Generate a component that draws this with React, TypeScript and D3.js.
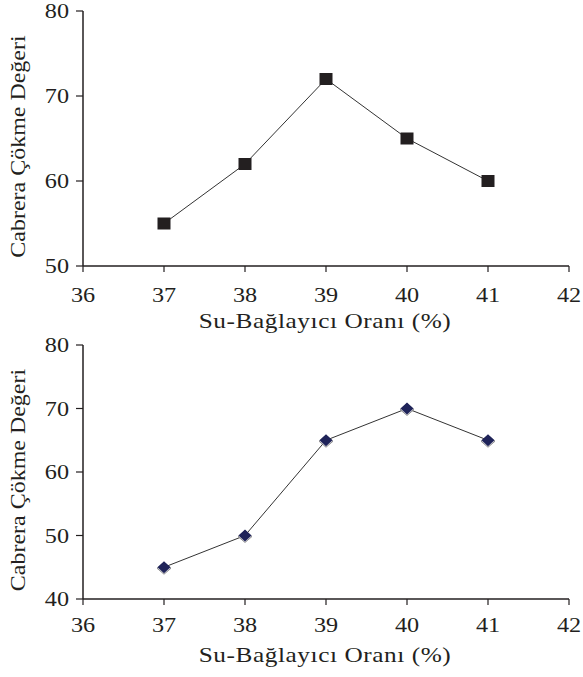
import React from "react";
import * as d3 from "d3";

const ratios = [37, 38, 39, 40, 41];
const slumpTop = [55, 62, 72, 65, 60];
const slumpBottom = [45, 50, 65, 70, 65];
const xTicks = [36, 37, 38, 39, 40, 41, 42];
const yTicksTop = [50, 60, 70, 80];
const yTicksBottom = [40, 50, 60, 70, 80];
const xTitle = "Su-Bağlayıcı Oranı (%)";
const yTitle = "Cabrera Çökme Değeri";

const FONT = "'Liberation Serif', 'Times New Roman', serif";
const INK = "#231f20";

type PanelProps = {
  values: number[];
  yTicks: number[];
  top: number;
  bottom: number;
  marker: "square" | "diamond";
  tickGap: number;
  titleGap: number;
};

// the scan's type is a bit wider than Times, so stretch it along the reading direction
const Label = ({ x, y, rotate = 0, stretch = 1.1, anchor, size, spacing = 0, dy, children }: any) => (
  <g transform={`translate(${x},${y}) rotate(${rotate}) scale(${stretch},1)`}>
    <text textAnchor={anchor} fontSize={size} letterSpacing={spacing} dy={dy} fill={INK}>
      {children}
    </text>
  </g>
);

const Panel = ({ values, yTicks, top, bottom, marker, tickGap, titleGap }: PanelProps) => {
  const x = d3.scaleLinear().domain([36, 42]).range([83, 569]);
  const y = d3
    .scaleLinear()
    .domain([yTicks[0], yTicks[yTicks.length - 1]])
    .range([bottom, top]);
  const line = d3
    .line<number>()
    .x((_, i) => x(ratios[i]))
    .y((d) => y(d));

  return (
    <g>
      {/* y axis */}
      <line x1={x(36)} x2={x(36)} y1={top} y2={bottom} stroke={INK} strokeWidth={1.5} />
      {yTicks.map((t) => (
        <g key={"y" + t}>
          <line x1={x(36) - 7} x2={x(36)} y1={y(t)} y2={y(t)} stroke={INK} strokeWidth={1.2} />
          <Label x={x(36) - 14} y={y(t)} anchor="end" size={22} dy="0.34em">
            {t}
          </Label>
        </g>
      ))}
      {/* x axis */}
      <line x1={x(36)} x2={x(42)} y1={bottom} y2={bottom} stroke={INK} strokeWidth={1.5} />
      {xTicks.map((t) => (
        <g key={"x" + t}>
          <line x1={x(t)} x2={x(t)} y1={bottom} y2={bottom + 6} stroke={INK} strokeWidth={1.2} />
          <Label x={x(t)} y={bottom + tickGap} anchor="middle" size={22}>
            {t}
          </Label>
        </g>
      ))}
      <Label x={x(39) - 1} y={bottom + titleGap} anchor="middle" size={22} stretch={1.15} spacing={0.5}>
        {xTitle}
      </Label>
      <Label
        x={25}
        y={(top + bottom) / 2 + 8}
        rotate={-90}
        anchor="middle"
        size={22}
        stretch={1.09}
      >
        {yTitle}
      </Label>

      <path d={line(values) ?? ""} fill="none" stroke="#333" strokeWidth={1} />

      {values.map((v, i) =>
        marker === "square" ? (
          <rect
            key={i}
            x={x(ratios[i]) - 6.5}
            y={y(v) - 6}
            width={13}
            height={12}
            fill={INK}
          />
        ) : (
          <g key={i} transform={`translate(${x(ratios[i])},${y(v)})`}>
            <path d="M0,-5 L7,1 L0,7 L-7,1 Z" fill="#d8d8e0" stroke="#555" strokeWidth={0.6} />
            <path d="M0,-6 L6.5,0 L0,6 L-6.5,0 Z" fill="#1f2359" />
          </g>
        )
      )}
    </g>
  );
};

const App = () => (
  <svg
    width={583}
    height={677}
    style={{ position: "absolute", left: 0, top: 0, background: "#fff" }}
    fontFamily={FONT}
  >
    <Panel values={slumpTop} yTicks={yTicksTop} top={11} bottom={266} marker="square" tickGap={36} titleGap={62} />
    <Panel
      values={slumpBottom}
      yTicks={yTicksBottom}
      top={345}
      bottom={599}
      marker="diamond"
      tickGap={33}
      titleGap={63}
    />
  </svg>
);

export default App;
